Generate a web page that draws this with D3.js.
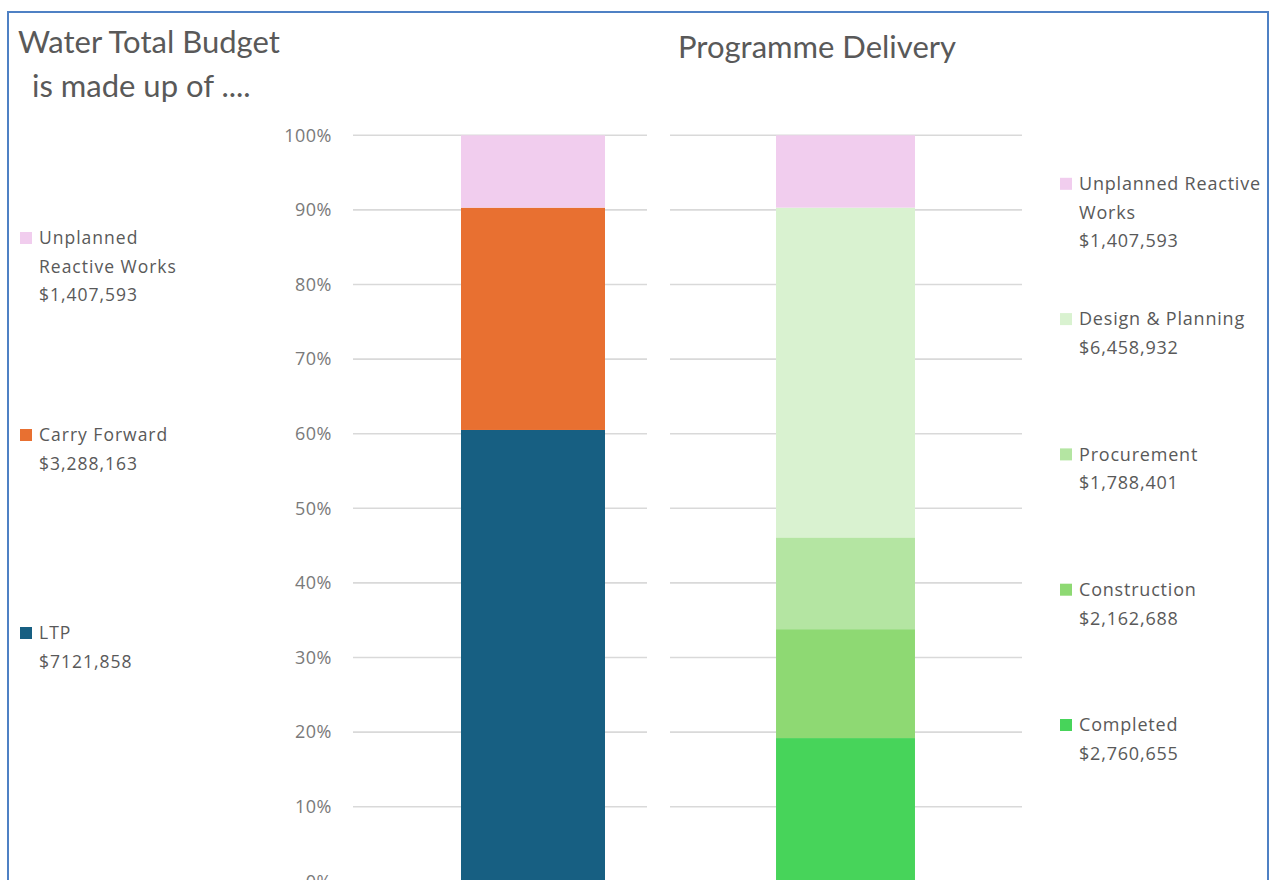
<!DOCTYPE html>
<html>
<head>
<meta charset="utf-8">
<script src="https://cdn.jsdelivr.net/npm/d3@7"></script>
<style>
  body { margin: 0; background: #fff; }
  svg text { font-family: "Open Sans", Lato, sans-serif; fill: #595959; }
  svg text.title { font-family: Lato, "Open Sans", sans-serif; }
</style>
</head>
<body>
<div id="chart"></div>
<script>
// Data (share of bar, %), bottom to top.
var budgetCategories = ['LTP', 'Carry Forward', 'Unplanned Reactive Works'];
var budgetShare = [60.5, 29.8, 9.7];
var budgetLabels = [['LTP', '$7121,858'], ['Carry Forward', '$3,288,163'], ['Unplanned', 'Reactive Works', '$1,407,593']];
var budgetColors = ['#175f82', '#e87031', '#f1cdee'];

var deliveryCategories = ['Completed', 'Construction', 'Procurement', 'Design & Planning', 'Unplanned Reactive Works'];
var deliveryShare = [19.2, 14.6, 12.3, 44.2, 9.7];
var deliveryLabels = [['Completed', '$2,760,655'], ['Construction', '$2,162,688'], ['Procurement', '$1,788,401'],
    ['Design & Planning', '$6,458,932'], ['Unplanned Reactive', 'Works', '$1,407,593']];
var deliveryColors = ['#47d45a', '#8ed973', '#b4e5a2', '#d9f2d0', '#f1cdee'];

var yTicks = [0, 10, 20, 30, 40, 50, 60, 70, 80, 90, 100];

var width = 1271,
    height = 880;

var svg = d3.select('#chart')
    .append('svg')
        .attr('width', width)
        .attr('height', height);

// Outer frame
svg.append('rect')
    .attr('x', 8)
    .attr('y', 12)
    .attr('width', 1260)
    .attr('height', 900)
    .attr('fill', 'none')
    .attr('stroke', '#4f81c4')
    .attr('stroke-width', 2);

// Shared y scale
var y = d3.scaleLinear()
    .domain([0, 100])
    .range([881.3, 135.3]);

function drawPanel(opts) {
    var g = svg.append('g');

    // band for the single bar, centred where the reference puts it
    var x = d3.scaleBand()
        .domain(['bar'])
        .range(opts.band)
        .paddingInner(0)
        .paddingOuter(opts.pad);

    // gridlines
    g.selectAll('.grid')
        .data(yTicks)
        .enter().append('line')
            .attr('x1', opts.x0)
            .attr('x2', opts.x1)
            .attr('y1', function(d){ return y(d); })
            .attr('y2', function(d){ return y(d); })
            .attr('stroke', '#d9d9d9')
            .attr('stroke-width', 1.6);

    // stacked segments
    var row = {};
    opts.categories.forEach(function(c, i){ row[c] = opts.values[i]; });
    var stacked = d3.stack().keys(opts.categories)([row]);

    g.selectAll('.seg')
        .data(stacked)
        .enter().append('rect')
            .attr('x', x('bar'))
            .attr('width', x.bandwidth())
            .attr('y', function(d){ return y(d[0][1]); })
            .attr('height', function(d){ return y(d[0][0]) - y(d[0][1]); })
            .attr('fill', function(d, i){ return opts.colors[i]; });

    // legend
    opts.labels.forEach(function(lines, i){
        var ly = opts.legendY(i);
        var item = g.append('g');
        item.append('rect')
            .attr('x', opts.legendX - 19)
            .attr('y', ly - 6)
            .attr('width', 12)
            .attr('height', 12)
            .attr('fill', opts.colors[i]);
        lines.forEach(function(t, j){
            item.append('text')
                .attr('x', opts.legendX)
                .attr('y', ly + j * opts.lineH)
                .attr('dy', '0.35em')
                .attr('font-size', opts.legendSize)
                .style('letter-spacing', opts.spacing + 'px')
                .text(t);
        });
    });
}

// Left panel: Water Total Budget
drawPanel({
    x0: 353, x1: 647, band: [353, 713], pad: 0.75,
    categories: budgetCategories, values: budgetShare, colors: budgetColors,
    labels: budgetLabels,
    legendX: 39, lineH: 28.5, legendSize: 17.5, spacing: 1,
    legendY: function(i){ return [633, 435, 238][i]; }
});

// Right panel: Programme Delivery
drawPanel({
    x0: 670, x1: 1022, band: [670, 1021], pad: 0.763,
    categories: deliveryCategories, values: deliveryShare, colors: deliveryColors,
    labels: deliveryLabels,
    legendX: 1079, lineH: 28.5, legendSize: 18, spacing: 0.8,
    legendY: function(i){ return 725 - i * 135.3; }
});

// Y axis labels
svg.append('g')
    .attr('transform', 'translate(332, 0)')
    .selectAll('text')
    .data(yTicks)
    .enter().append('text')
        .attr('x', 0)
        .attr('y', function(d){ return y(d); })
        .attr('dy', '0.35em')
        .attr('text-anchor', 'end')
        .attr('font-size', 18)
        .style('letter-spacing', '0.5px')
        .style('fill', '#7a7a7a')
        .text(function(d){ return d + '%'; });

// Titles
svg.append('text')
    .attr('class', 'title')
    .attr('x', 18)
    .attr('y', 53)
    .attr('font-size', 31)
    .text('Water Total Budget');

svg.append('text')
    .attr('class', 'title')
    .attr('x', 32)
    .attr('y', 97)
    .attr('font-size', 31)
    .text('is made up of ....');

svg.append('text')
    .attr('class', 'title')
    .attr('x', 678)
    .attr('y', 58)
    .attr('font-size', 31)
    .text('Programme Delivery');
</script>
</body>
</html>
